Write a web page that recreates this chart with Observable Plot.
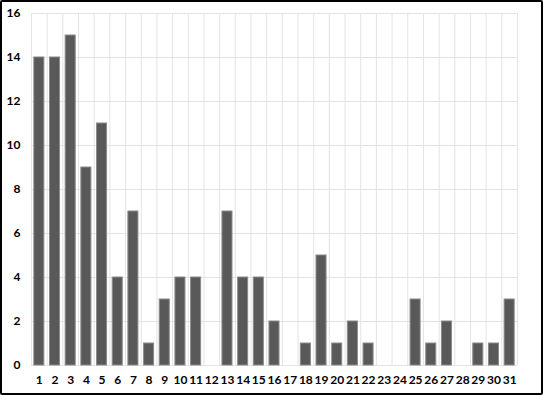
<!DOCTYPE html>
<html><head><meta charset="utf-8">
<script src="https://cdn.jsdelivr.net/npm/d3@7"></script>
<script src="https://cdn.jsdelivr.net/npm/@observablehq/plot@0.6"></script>
<style>
body{margin:0;background:#fff;}
#wrap{position:relative;width:543px;height:395px;}
#frame{position:absolute;left:0;top:0;width:543px;height:395px;box-sizing:border-box;border:2px solid #000;border-radius:2px;pointer-events:none;}
</style></head>
<body><div id="wrap"><div id="frame"></div></div>
<script>
const days = d3.range(1, 32);
const counts = [14,14,15,9,11,4,7,1,3,4,4,0,7,4,4,2,0,1,5,1,2,1,0,0,3,1,2,0,1,1,3];
const yTicks = [0,2,4,6,8,10,12,14,16];
const data = days.map((d,i)=>({day:d, n:counts[i]}));
const bounds = [days[0]-0.5, ...days.map(d=>d+0.5)];
const half = 0.32;
const chart = Plot.plot({
  width:543, height:395,
  marginLeft:31, marginRight:26, marginTop:13, marginBottom:30,
  style:{fontFamily:"Lato, 'Liberation Sans', sans-serif", fontSize:"12px", fontWeight:"bold", color:"#000", background:"transparent"},
  x:{domain:[0.5,31.5], ticks:days, tickFormat:d=>String(d), tickSize:0, tickPadding:10, label:null},
  y:{domain:[0,16], ticks:yTicks, tickSize:0, tickPadding:11, label:null},
  marks:[
    Plot.ruleX(bounds,{stroke:"#e3e3e3", strokeWidth:1}),
    Plot.ruleY(yTicks,{stroke:"#e3e3e3", strokeWidth:1}),
    Plot.rectY(data.filter(d=>d.n>0),{x1:d=>d.day-half, x2:d=>d.day+half, y1:0, y2:"n", fill:"#595959", stroke:"#8a8a8a", strokeWidth:1})
  ]
});
chart.style.position="absolute"; chart.style.left="0"; chart.style.top="0";
document.getElementById("wrap").prepend(chart);
</script></body></html>
